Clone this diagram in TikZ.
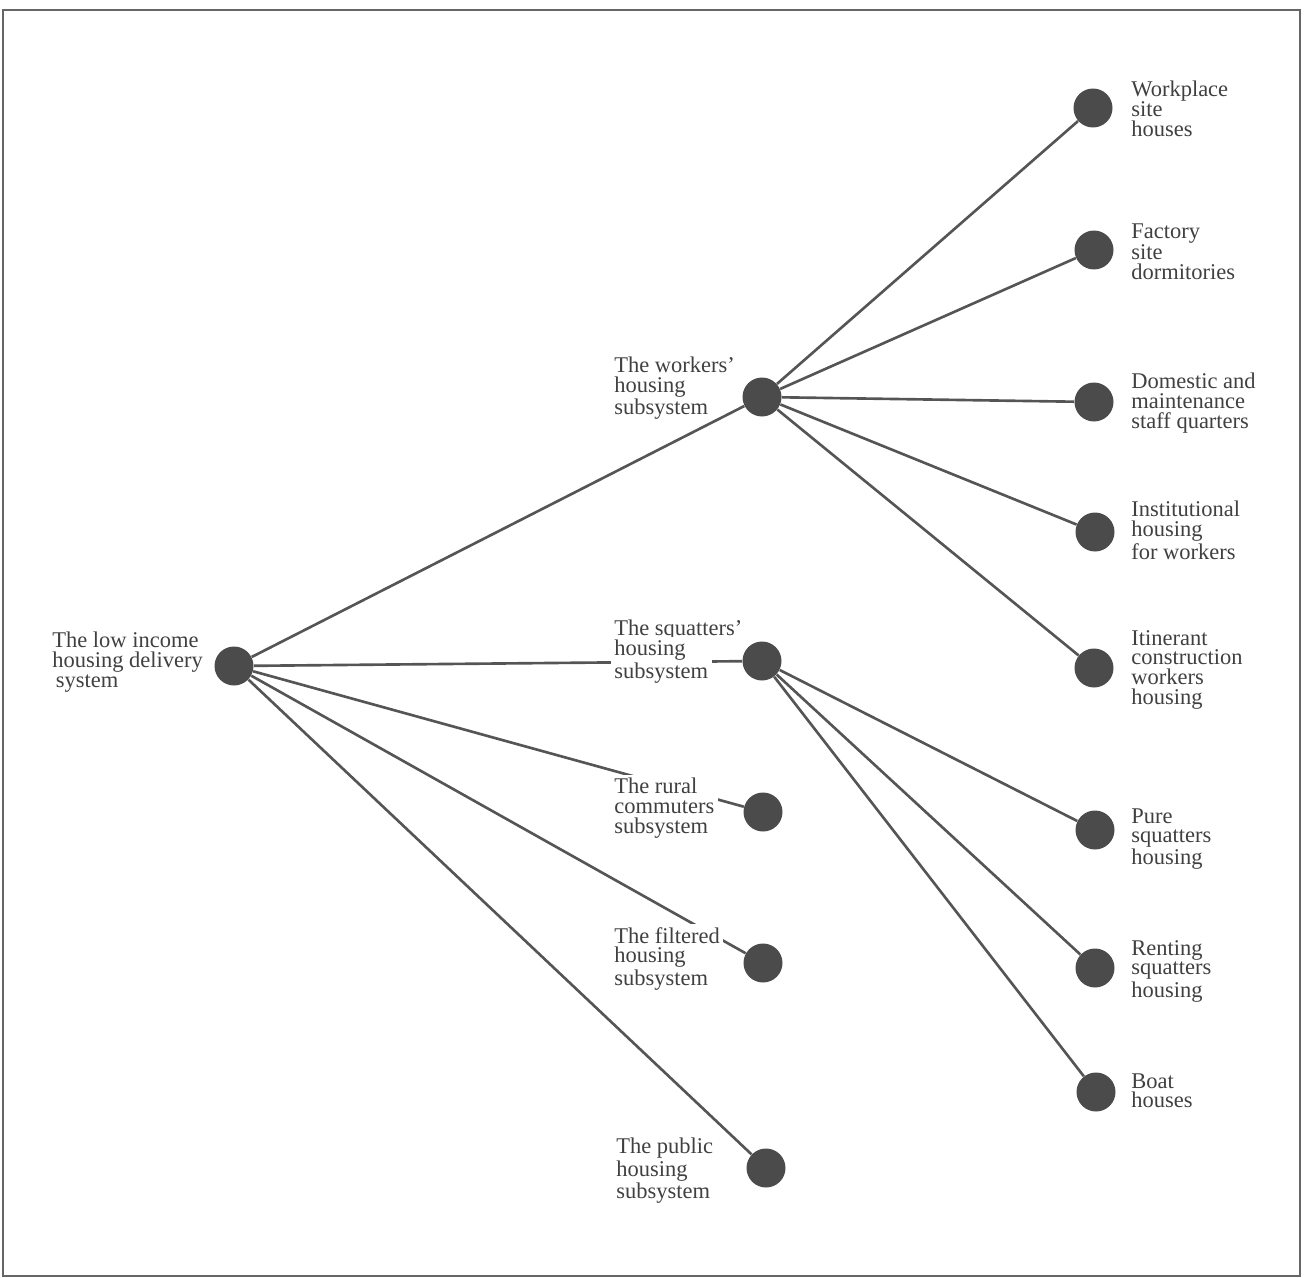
\documentclass[tikz,border=0pt]{standalone}
\usepackage{fontspec}
\setmainfont{Liberation Serif}
\definecolor{dotc}{HTML}{4B4B4B}
\definecolor{linec}{HTML}{555555}
\definecolor{txtc}{HTML}{404040}
\definecolor{framec}{HTML}{666666}
\begin{document}
\begin{tikzpicture}[x=0.02cm,y=-0.02cm,
  conn/.style={draw=linec, line width=1.5pt},
  dot/.style={circle, fill=dotc, minimum size=0.78cm, inner sep=0pt},
  lab/.style={anchor=north west, inner sep=0pt, align=left, text=txtc, font=\fontsize{12.8}{11.2}\selectfont},
  labw/.style={lab, fill=white, inner sep=2pt},
]
\useasboundingbox (0,0) rectangle (1313,1278);
\draw[framec, line width=1.6pt] (3,10) rectangle (1300,1276);

% dots
\node[dot] (root) at (234,666) {};
\node[dot] (wk) at (762,397) {};
\node[dot] (sq) at (762,661) {};
\node[dot] (ru) at (763,812) {};
\node[dot] (fi) at (763,963) {};
\node[dot] (pu) at (766,1168) {};
\node[dot] (w1) at (1093,108) {};
\node[dot] (w2) at (1094,250) {};
\node[dot] (w3) at (1094,402) {};
\node[dot] (w4) at (1095,532) {};
\node[dot] (w5) at (1094,668) {};
\node[dot] (s1) at (1095,830) {};
\node[dot] (s2) at (1095,968) {};
\node[dot] (s3) at (1096,1092) {};

% connectors
\foreach \t in {wk,sq,ru,fi,pu} \draw[conn] (root) -- (\t);
\foreach \t in {w1,w2,w3,w4,w5} \draw[conn] (wk) -- (\t);
\foreach \t in {s1,s2,s3} \draw[conn] (sq) -- (\t);

% labels
\node[lab] (lroot) at (52,632) {The low income\\housing delivery\\\hspace{2pt}system};
\node[lab] (lwk) at (614,357) {The workers'\\housing\\subsystem};
\node[lab] (lsqa) at (614,620) {The squatters'};
\node[labw] (lsqb) at (610.5,636.5) {housing\\subsystem};
\node[labw] (lru) at (610.5,774.5) {The rural\\commuters\\subsystem};
\node[labw] (lfi) at (610.5,923.5) {The filtered\\housing\\subsystem};
\node[lab] (lpu) at (616,1138) {The public\\housing\\subsystem};

\node[lab] (lw1) at (1131,81) {Workplace\\site\\houses};
\node[lab] (lw2) at (1131,223) {Factory\\site\\dormitories};
\node[lab] (lw3) at (1131,373) {Domestic and\\maintenance\\staff quarters};
\node[lab] (lw4) at (1131,501) {Institutional\\housing\\for workers};
\node[lab] (lw5) at (1131,630) {Itinerant\\construction\\workers\\housing};
\node[lab] (ls1) at (1131,808) {Pure\\squatters\\housing};
\node[lab] (ls2) at (1131,940) {Renting\\squatters\\housing};
\node[lab] (ls3) at (1131,1073) {Boat\\houses};
\end{tikzpicture}
\end{document}
